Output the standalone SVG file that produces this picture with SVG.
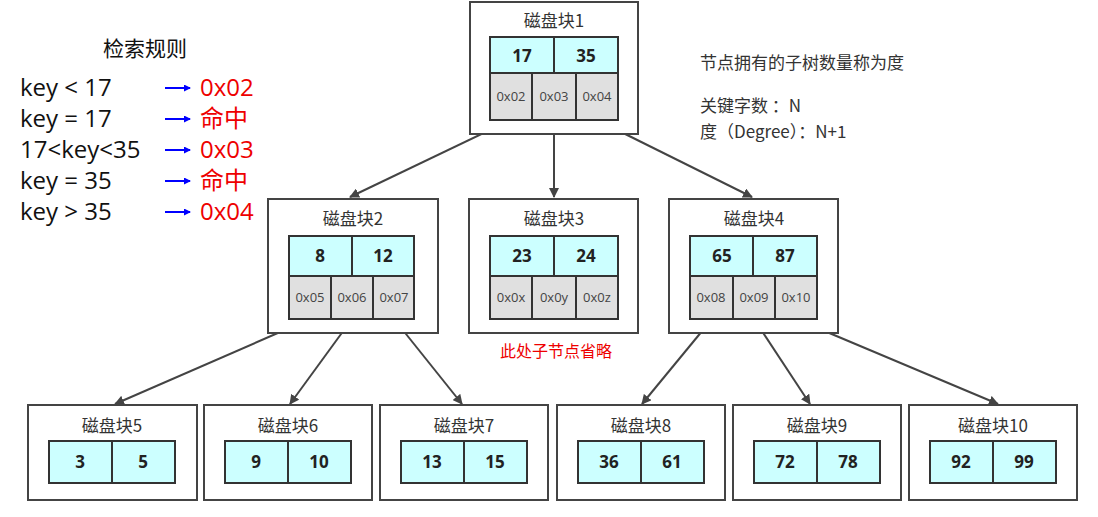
<svg xmlns="http://www.w3.org/2000/svg" width="1098" height="517" viewBox="0 0 1098 517">
<style>
.box{fill:#fff;stroke:#444;stroke-width:2}
.k{fill:#ccffff;stroke:#333;stroke-width:2}
.p{fill:#e0e0e0;stroke:#333;stroke-width:2}
.t{font-family:"Noto Sans CJK SC","Noto Sans",sans-serif;font-size:17px;fill:#333;text-anchor:middle}
.kt{font-family:"Open Sans","Noto Sans",sans-serif;font-size:17px;font-weight:bold;fill:#222;text-anchor:middle}
.pt{font-family:"Open Sans","Noto Sans",sans-serif;font-size:13px;fill:#444;text-anchor:middle}
.r{font-family:"Open Sans","Noto Sans CJK SC",sans-serif;font-size:24px;fill:#111}
.rr{font-family:"Open Sans","Noto Sans CJK SC",sans-serif;font-size:24px;fill:#e00}
.c{stroke:#444;stroke-width:2;fill:none;marker-end:url(#a)}
.ba{stroke:#00f;stroke-width:2;marker-end:url(#b)}
</style>
<defs>
<marker id="a" markerWidth="10" markerHeight="10" refX="9" refY="5" orient="auto" markerUnits="userSpaceOnUse"><path d="M0,0L10,5L0,10z" fill="#444"/></marker>
<marker id="b" markerWidth="7" markerHeight="7" refX="6" refY="3.5" orient="auto" markerUnits="userSpaceOnUse"><path d="M0,0L7,3.5L0,7z" fill="#00f"/></marker>
</defs>
<rect width="1098" height="517" fill="#fff"/>
<g id="rules">
<text x="145" y="56" class="t" style="font-size:21px;fill:#111">检索规则</text>
<text x="20" y="96" class="r">key &lt; 17</text>
<text x="20" y="127" class="r">key = 17</text>
<text x="20" y="158" class="r">17&lt;key&lt;35</text>
<text x="20" y="189" class="r">key = 35</text>
<text x="20" y="220" class="r">key &gt; 35</text>
<line x1="165" y1="88" x2="190" y2="88" class="ba"/>
<line x1="165" y1="119" x2="190" y2="119" class="ba"/>
<line x1="165" y1="150" x2="190" y2="150" class="ba"/>
<line x1="165" y1="181" x2="190" y2="181" class="ba"/>
<line x1="165" y1="212" x2="190" y2="212" class="ba"/>
<text x="200" y="96" class="rr">0x02</text>
<text x="200" y="127" class="rr">命中</text>
<text x="200" y="158" class="rr">0x03</text>
<text x="200" y="189" class="rr">命中</text>
<text x="200" y="220" class="rr">0x04</text>
</g>
<g id="notes" font-family="Noto Sans CJK SC,sans-serif" font-size="17" fill="#333">
<text x="700" y="69">节点拥有的子树数量称为度</text>
<text x="700" y="112">关键字数 ：N</text>
<text x="700" y="138">度（Degree）：N+1</text>
<text x="500" y="357" fill="#e00" font-size="16">此处子节点省略</text>
</g>
<g id="connectors">
<line x1="511" y1="120" x2="350" y2="197" class="c"/>
<line x1="554" y1="120" x2="554" y2="197" class="c"/>
<line x1="597" y1="120" x2="752" y2="197" class="c"/>
<line x1="310" y1="319" x2="115" y2="404" class="c"/>
<line x1="352" y1="319" x2="290" y2="404" class="c"/>
<line x1="394" y1="319" x2="462" y2="404" class="c"/>
<line x1="712" y1="319" x2="642" y2="404" class="c"/>
<line x1="754" y1="319" x2="810" y2="404" class="c"/>
<line x1="796" y1="319" x2="998" y2="404" class="c"/>
</g>
<g id="b1"><rect x="470" y="2" width="168" height="132" class="box"/><text x="554" y="27" class="t">磁盘块1</text>
<rect x="490" y="37" width="64" height="36" class="k"/><rect x="554" y="37" width="64" height="36" class="k"/>
<text x="522" y="62" class="kt">17</text><text x="586" y="62" class="kt">35</text>
<rect x="490" y="73" width="42" height="47" class="p"/><rect x="532" y="73" width="44" height="47" class="p"/><rect x="576" y="73" width="42" height="47" class="p"/>
<text x="511" y="101" class="pt">0x02</text><text x="554" y="101" class="pt">0x03</text><text x="597" y="101" class="pt">0x04</text></g>
<g id="b2"><rect x="268" y="199" width="170" height="134" class="box"/><text x="353" y="225" class="t">磁盘块2</text>
<rect x="289" y="236" width="63" height="40" class="k"/><rect x="352" y="236" width="62" height="40" class="k"/>
<text x="320" y="262" class="kt">8</text><text x="383" y="262" class="kt">12</text>
<rect x="289" y="276" width="42" height="43" class="p"/><rect x="331" y="276" width="42" height="43" class="p"/><rect x="373" y="276" width="41" height="43" class="p"/>
<text x="310" y="302" class="pt">0x05</text><text x="352" y="302" class="pt">0x06</text><text x="394" y="302" class="pt">0x07</text></g>
<g id="b3"><rect x="469" y="199" width="169" height="134" class="box"/><text x="554" y="225" class="t">磁盘块3</text>
<rect x="490" y="236" width="64" height="40" class="k"/><rect x="554" y="236" width="64" height="40" class="k"/>
<text x="522" y="262" class="kt">23</text><text x="586" y="262" class="kt">24</text>
<rect x="490" y="276" width="42" height="43" class="p"/><rect x="532" y="276" width="44" height="43" class="p"/><rect x="576" y="276" width="42" height="43" class="p"/>
<text x="511" y="302" class="pt">0x0x</text><text x="554" y="302" class="pt">0x0y</text><text x="597" y="302" class="pt">0x0z</text></g>
<g id="b4"><rect x="669" y="199" width="169" height="134" class="box"/><text x="754" y="225" class="t">磁盘块4</text>
<rect x="690" y="236" width="63" height="40" class="k"/><rect x="753" y="236" width="64" height="40" class="k"/>
<text x="722" y="262" class="kt">65</text><text x="785" y="262" class="kt">87</text>
<rect x="690" y="276" width="43" height="43" class="p"/><rect x="733" y="276" width="42" height="43" class="p"/><rect x="775" y="276" width="42" height="43" class="p"/>
<text x="711" y="302" class="pt">0x08</text><text x="754" y="302" class="pt">0x09</text><text x="796" y="302" class="pt">0x10</text></g>
<g id="b5"><rect x="28" y="405" width="169" height="95" class="box"/><text x="112" y="432" class="t">磁盘块5</text>
<rect x="49" y="441" width="63" height="42" class="k"/><rect x="112" y="441" width="63" height="42" class="k"/>
<text x="80" y="468" class="kt">3</text><text x="143" y="468" class="kt">5</text></g>
<g id="b6"><rect x="204" y="405" width="168" height="95" class="box"/><text x="288" y="432" class="t">磁盘块6</text>
<rect x="225" y="441" width="63" height="42" class="k"/><rect x="288" y="441" width="63" height="42" class="k"/>
<text x="256" y="468" class="kt">9</text><text x="319" y="468" class="kt">10</text></g>
<g id="b7"><rect x="380" y="405" width="168" height="95" class="box"/><text x="464" y="432" class="t">磁盘块7</text>
<rect x="401" y="441" width="63" height="42" class="k"/><rect x="464" y="441" width="63" height="42" class="k"/>
<text x="432" y="468" class="kt">13</text><text x="495" y="468" class="kt">15</text></g>
<g id="b8"><rect x="557" y="405" width="168" height="95" class="box"/><text x="641" y="432" class="t">磁盘块8</text>
<rect x="578" y="441" width="63" height="42" class="k"/><rect x="641" y="441" width="63" height="42" class="k"/>
<text x="609" y="468" class="kt">36</text><text x="672" y="468" class="kt">61</text></g>
<g id="b9"><rect x="733" y="405" width="168" height="95" class="box"/><text x="817" y="432" class="t">磁盘块9</text>
<rect x="754" y="441" width="63" height="42" class="k"/><rect x="817" y="441" width="63" height="42" class="k"/>
<text x="785" y="468" class="kt">72</text><text x="848" y="468" class="kt">78</text></g>
<g id="b10"><rect x="909" y="405" width="168" height="95" class="box"/><text x="993" y="432" class="t">磁盘块10</text>
<rect x="930" y="441" width="63" height="42" class="k"/><rect x="993" y="441" width="63" height="42" class="k"/>
<text x="961" y="468" class="kt">92</text><text x="1024" y="468" class="kt">99</text></g>
</svg>
